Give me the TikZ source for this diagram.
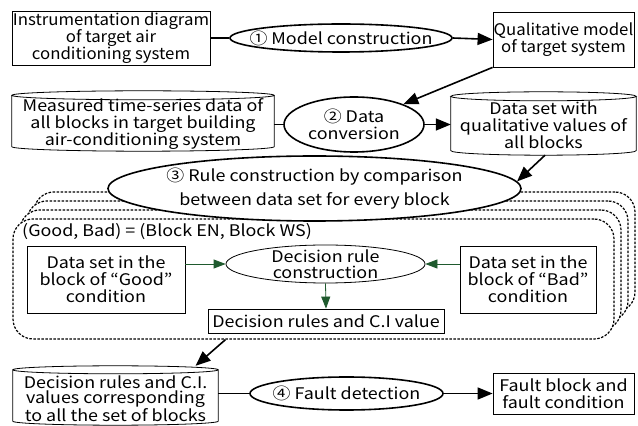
\documentclass[tikz,border=0pt]{standalone}
\usepackage{fontspec}
\setmainfont{Noto Sans CJK JP}[FakeStretch=1.12]
\newfontfamily\narrowfont{Noto Sans CJK JP}[FakeStretch=1.05]
\usetikzlibrary{arrows.meta,shapes.geometric,calc}
\definecolor{dgreen}{HTML}{1F5A2E}
\newcommand{\cylout}[2]{%
  \draw[line width=0.8pt] let \p1=(#1.north west), \p2=(#1.south east), \n1={(\x2-\x1)/2} in
    (\x1,\y1) -- (\x1,\y2) arc[start angle=180, end angle=360, x radius=\n1, y radius=#2pt] -- (\x2,\y1)
    (#1.north) ellipse[x radius=\n1, y radius=#2pt];}
\begin{document}
\begin{tikzpicture}[x=1pt,y=1pt,
  font=\fontsize{16}{17}\selectfont,
  box/.style={draw, line width=0.8pt, align=center, inner sep=0pt, fill=white},
  ell/.style={ellipse, draw, line width=1.6pt, fill=white, inner sep=0pt},
  tx/.style={align=center, inner sep=0pt},
  conn/.style={line width=1.6pt},
  arr/.style={line width=1.6pt, -{Triangle[length=15pt,width=12pt]}},
  garr/.style={dgreen, line width=0.8pt, -{Triangle[length=12pt,width=9pt]}},
  dbox/.style={draw, rounded corners=20pt, dash pattern=on 2.5pt off 1.5pt, line width=1.2pt, fill=white, minimum width=601pt, minimum height=120pt, inner sep=0pt},
]
\useasboundingbox[fill=white] (0,0) rectangle (638,426);

% row 1
\node[box, minimum width=198pt, minimum height=54pt, font=\fontsize{16}{17}\narrowfont] (instr) at (111,388) {Instrumentation diagram\\of target air\\conditioning system};
\node[ell, minimum width=222pt, minimum height=28pt] (e1) at (341,388) {};
\node[tx] (e1t) at (e1) {① Model construction};
\node[box, minimum width=141pt, minimum height=55pt, font=\fontsize{16}{17}\narrowfont] (qual) at (563.5,386.5) {Qualitative model\\of target system};

% row 2
\node[tx, minimum width=262pt, minimum height=51pt] (meas) at (143,305) {};
\cylout{meas}{4.5}
\node[tx] (meast) at ([yshift=-3pt]meas.center) {Measured time-series data of\\all blocks in target building\\air-conditioning system};
\node[ell, minimum width=140pt, minimum height=55pt] (e2) at (354,301.5) {};
\node[tx] (e2t) at (e2) {② Data\\conversion};
\node[tx, minimum width=185pt, minimum height=54pt] (dset) at (543.5,302.5) {};
\cylout{dset}{4.5}
\node[tx] (dsett) at ([yshift=-1.5pt]dset.center) {Data set with\\qualitative values of\\all blocks};

% stacked dotted boxes
\node[dbox] (db3) at (334.5,174) {};
\node[dbox] (db2) at (327.5,165) {};
\node[dbox] (db1) at (320.5,156) {};
\node[dbox] (front) at (313.5,147) {};

% ellipse 3
\node[ell, minimum width=413pt, minimum height=65pt] (e3) at (314.5,237.5) {};
\node[tx, font=\fontsize{16}{24}\selectfont] (e3t) at (e3) {③ Rule construction by comparison\\between data set for every block};

% inner content
\node[anchor=west, inner sep=0pt] (gb) at (22,194) {(Good, Bad) = (Block EN, Block WS)};
\node[box, minimum width=158pt, minimum height=67pt] (good) at (106,146.5) {Data set in the\\block of “Good”\\condition};
\node[ell, line width=0.8pt, minimum width=199pt, minimum height=38pt] (drc) at (325.5,162) {};
\node[tx, font=\fontsize{16}{16.5}\selectfont] (drct) at (drc) {Decision rule\\construction};
\node[box, minimum width=136pt, minimum height=67pt] (bad) at (528,146.5) {Data set in the\\block of “Bad”\\condition};
\node[box, minimum width=236pt, minimum height=24pt] (rules) at (326,105) {Decision rules and C.I value};

% row 4
\node[tx, minimum width=205pt, minimum height=51pt] (rcyl) at (115.5,30.5) {};
\cylout{rcyl}{4}
\node[tx, font=\fontsize{16}{15.5}\selectfont] (rcylt) at ([yshift=-3pt]rcyl.center) {Decision rules and C.I.\\values corresponding\\to all the set of blocks};
\node[ell, minimum width=193pt, minimum height=33pt] (e4) at (346.5,32.5) {};
\node[tx] (e4t) at (e4) {④ Fault detection};
\node[box, minimum width=141pt, minimum height=41pt] (fault) at (563.5,32.5) {Fault block and\\fault condition};

% connectors
\draw[conn] (instr.east) -- (e1.west);
\draw[arr] (e1.east) -- (qual.west);
\draw[arr] (qual.south west) -- (e2);
\draw[conn] (meas.east |- e2.west) -- (e2.west);
\draw[arr] (e2.east) -- (dset.west |- e2.east);
\draw[arr] ([xshift=1.5pt,yshift=-4.5pt]dset.south) -- (e3.2);
\draw[arr] ([xshift=-88pt]front.south) -- ([xshift=80pt,yshift=4pt]rcyl.north);
\draw[conn] (rcyl.east |- e4.west) -- (e4.west);
\draw[arr] (e4.east) -- (fault.west);

\draw[garr] (good.east |- drc.west) -- (drc.west);
\draw[garr] (bad.west |- drc.east) -- (drc.east);
\draw[garr] (drc.south) -- (rules.north);
\end{tikzpicture}
\end{document}
